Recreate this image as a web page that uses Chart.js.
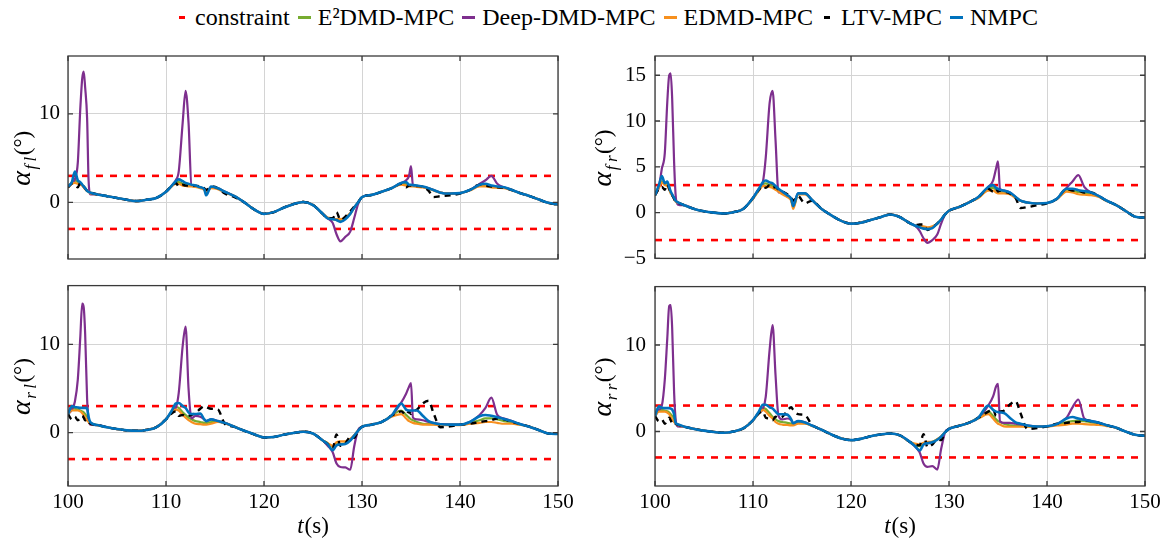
<!doctype html>
<html lang="en">
<head>
  <meta charset="utf-8">
  <title>Slip angles</title>
  <style>
    * { margin: 0; padding: 0; }
    body { width: 1169px; height: 543px; background: #fff; position: relative; overflow: hidden; font-family: "Liberation Serif", "DejaVu Serif", serif; }
    #legend {
      position: absolute; top: 4px; left: 22px; width: 1169px;
      display: flex; justify-content: center; align-items: center;
      font-size: 24px; color: #000; white-space: nowrap;
    }
    .item { display: flex; align-items: center; margin: 0 4px; }
    .slot { width: 13px; height: 3px; display: flex; justify-content: center; margin-right: 7px; }
    .mark { height: 3px; }
    canvas { position: absolute; }
  </style>
</head>
<body>
  <div id="legend"></div>
  <canvas id="cFL" width="590" height="250" style="left:0;top:30px"></canvas>
  <canvas id="cFR" width="589" height="250" style="left:580px;top:30px"></canvas>
  <canvas id="cRL" width="590" height="278" style="left:0;top:265px"></canvas>
  <canvas id="cRR" width="589" height="278" style="left:580px;top:265px"></canvas>

  <script src="https://cdn.jsdelivr.net/npm/chart.js/dist/chart.umd.min.js"></script>
  <script>
    // shared time grid (s)
    const tGrid = [
      100, 100.4, 100.7, 101.0, 101.25, 101.45, 101.6, 101.75, 101.95, 102.1,
      102.3, 103, 104, 105, 106, 107, 108, 109, 110, 110.6,
      111.0, 111.3, 111.7, 112.0, 112.3, 112.6, 113, 113.5, 113.9, 114.1,
      114.6, 115.3, 116, 117, 118, 119, 120, 121, 122, 123,
      124, 125, 126, 126.5, 127, 127.4, 127.8, 128.3, 128.8, 129.2,
      129.6, 130, 131, 132, 133, 134, 134.5, 134.8, 135.0, 135.2,
      135.6, 136.2, 136.8, 137.3, 138, 139, 140, 141, 142, 142.6,
      143.2, 143.8, 144.5, 145.3, 146, 147, 148, 149, 150
    ];
    const xTicks = [100, 110, 120, 130, 140, 150];
    const constraintLevels = [3, -3];

    // front left
    const nmpcFL = [
      1.8, 2.3, 3.5, 2.5, 2.3, 2.0, 1.8, 1.6, 1.3, 1.2,
      1.1, 0.9, 0.7, 0.5, 0.3, 0.15, 0.3, 0.5, 1.2, 1.9,
      2.4, 2.6, 2.4, 2.2, 2.1, 2.0, 1.9, 1.7, 1.5, 0.8,
      1.8, 1.6, 1.2, 0.7, 0.0, -0.8, -1.3, -1.1, -0.6, -0.2,
      0.05, -0.3, -1.3, -1.8, -1.9, -2.0, -2.2, -1.9, -1.3, -0.6,
      0.0, 0.6, 0.85, 1.2, 1.6, 2.2, 2.3, 2.0, 2.0, 1.95,
      1.9, 1.8, 1.6, 1.4, 1.1, 1.0, 1.05, 1.4, 2.0, 2.1,
      1.9, 1.8, 1.7, 1.4, 1.1, 0.75, 0.35, -0.05, -0.25
    ];
    const e2dmdFL = [
      1.8, 2.2, 2.5, 2.3, 2.2, 2.0, 1.8, 1.6, 1.3, 1.2,
      1.1, 0.9, 0.7, 0.5, 0.3, 0.15, 0.3, 0.5, 1.2, 1.9,
      2.3, 2.3, 2.1, 2.0, 1.9, 1.9, 1.8, 1.7, 1.5, 1.2,
      1.7, 1.6, 1.2, 0.7, 0.0, -0.8, -1.3, -1.1, -0.6, -0.2,
      0.05, -0.3, -1.3, -1.8, -1.9, -2.0, -2.1, -1.8, -1.3, -0.6,
      0.0, 0.6, 0.85, 1.2, 1.6, 2.1, 2.1, 1.9, 1.9, 1.9,
      1.85, 1.75, 1.6, 1.4, 1.1, 1.0, 1.05, 1.4, 1.9, 1.9,
      1.8, 1.75, 1.65, 1.4, 1.1, 0.75, 0.35, -0.05, -0.25
    ];
    const deepFL = [
      1.8, 2.2, 2.6, 4.5, 10.5, 14.0, 14.8, 13.0, 9.5, 2.5,
      0.9, 0.9, 0.7, 0.5, 0.3, 0.15, 0.3, 0.5, 1.2, 1.9,
      2.5, 3.5, 9.0, 12.6, 9.0, 1.9, 1.8, 1.7, 1.5, 1.2,
      1.7, 1.6, 1.2, 0.7, 0.0, -0.8, -1.3, -1.1, -0.6, -0.2,
      0.05, -0.3, -1.3, -1.8, -2.3, -3.6, -4.4, -3.9, -3.3, -1.8,
      -0.2, 0.6, 0.85, 1.2, 1.6, 2.2, 2.5, 3.0, 4.1, 1.9,
      1.85, 1.75, 1.6, 1.4, 1.1, 1.0, 1.05, 1.4, 2.1, 2.5,
      3.0, 2.1, 1.7, 1.4, 1.1, 0.75, 0.35, -0.05, -0.25
    ];
    const edmdFL = [
      1.7, 2.1, 2.2, 2.1, 2.0, 1.9, 1.7, 1.5, 1.3, 1.2,
      1.0, 0.9, 0.7, 0.5, 0.3, 0.15, 0.3, 0.5, 1.2, 1.8,
      2.1, 2.1, 1.9, 1.85, 1.8, 1.8, 1.75, 1.6, 1.4, 1.1,
      1.6, 1.5, 1.1, 0.7, 0.0, -0.8, -1.3, -1.1, -0.6, -0.2,
      0.05, -0.3, -1.3, -1.7, -1.8, -1.9, -1.9, -1.7, -1.2, -0.6,
      0.0, 0.6, 0.85, 1.2, 1.6, 2.0, 1.9, 1.8, 1.8, 1.8,
      1.75, 1.7, 1.55, 1.35, 1.1, 1.0, 1.05, 1.35, 1.8, 1.8,
      1.7, 1.65, 1.6, 1.35, 1.1, 0.75, 0.35, -0.05, -0.25
    ];
    const ltvFL = [
      1.7, 2.1, 2.0, 1.7, 2.2, 2.0, 1.8, 1.6, 1.3, 1.2,
      1.1, 0.9, 0.7, 0.5, 0.3, 0.15, 0.3, 0.5, 1.2, 1.9,
      2.2, 1.8, 2.0, 1.9, 1.9, 1.9, 1.9, 1.8, 1.6, 1.4,
      1.8, 1.6, 1.0, 0.6, 0.0, -0.8, -1.3, -1.1, -0.6, -0.2,
      0.05, -0.3, -1.3, -1.8, -1.8, -1.1, -2.0, -1.6, -1.0, -0.5,
      0.0, 0.6, 0.85, 1.2, 1.6, 2.1, 1.7, 1.9, 1.9, 1.9,
      1.85, 1.8, 1.3, 0.6, 0.7, 0.8, 1.0, 1.4, 2.0, 1.9,
      1.8, 1.7, 1.65, 1.4, 1.1, 0.75, 0.35, -0.05, -0.25
    ];

    // front right
    const nmpcFR = [
      1.9, 3.0, 4.0, 3.2, 3.4, 2.8, 2.3, 2.0, 1.6, 1.3,
      1.15, 0.8, 0.4, 0.15, 0.0, -0.1, 0.05, 0.4, 1.6, 2.6,
      3.3, 3.5, 3.3, 3.2, 2.9, 2.6, 2.3, 1.9, 1.5, 0.7,
      2.1, 2.1, 1.4, 0.4, -0.3, -0.9, -1.2, -1.1, -0.8, -0.5,
      -0.2, -0.5, -1.15, -1.4, -1.6, -1.75, -1.8, -1.7, -1.2, -0.75,
      -0.2, 0.2, 0.6, 1.1, 1.7, 2.8, 3.0, 2.7, 2.6, 2.5,
      2.4, 2.2, 1.7, 1.3, 1.1, 1.0, 1.05, 1.5, 2.6, 2.6,
      2.45, 2.35, 2.2, 1.8, 1.35, 0.85, 0.2, -0.45, -0.55
    ];
    const e2dmdFR = [
      1.9, 2.9, 3.4, 3.1, 3.2, 2.7, 2.2, 1.9, 1.6, 1.3,
      1.15, 0.8, 0.4, 0.15, 0.0, -0.1, 0.05, 0.4, 1.6, 2.5,
      3.1, 3.2, 3.0, 2.9, 2.7, 2.5, 2.2, 1.8, 1.4, 0.6,
      2.0, 2.1, 1.4, 0.4, -0.3, -0.9, -1.2, -1.1, -0.8, -0.5,
      -0.2, -0.5, -1.15, -1.4, -1.55, -1.6, -1.7, -1.6, -1.2, -0.75,
      -0.2, 0.2, 0.6, 1.1, 1.7, 2.6, 2.7, 2.5, 2.4, 2.3,
      2.3, 2.1, 1.7, 1.3, 1.1, 1.0, 1.05, 1.5, 2.5, 2.4,
      2.25, 2.15, 2.05, 1.75, 1.35, 0.85, 0.2, -0.45, -0.55
    ];
    const deepFR = [
      1.9, 2.8, 4.8, 6.5, 12.0, 15.0, 15.2, 12.5, 5.5, 2.0,
      0.9, 0.8, 0.4, 0.15, 0.0, -0.1, 0.05, 0.4, 1.6, 2.6,
      3.3, 6.0, 12.0, 13.3, 7.9, 2.2, 2.3, 1.9, 1.5, 0.7,
      2.1, 2.1, 1.4, 0.4, -0.3, -0.9, -1.2, -1.1, -0.8, -0.5,
      -0.2, -0.5, -1.15, -1.4, -2.0, -2.8, -3.3, -3.0, -2.4, -1.2,
      -0.2, 0.2, 0.6, 1.1, 1.7, 2.8, 3.5, 4.8, 5.6, 2.6,
      2.4, 2.2, 1.7, 1.3, 1.1, 1.0, 1.05, 1.5, 2.7, 3.4,
      4.1, 2.8, 2.2, 1.8, 1.35, 0.85, 0.2, -0.45, -0.55
    ];
    const edmdFR = [
      1.9, 2.7, 3.3, 3.0, 2.9, 2.5, 2.1, 1.9, 1.5, 1.2,
      1.1, 0.8, 0.4, 0.15, 0.0, -0.1, 0.05, 0.4, 1.5, 2.4,
      2.9, 2.9, 2.8, 2.7, 2.5, 2.3, 2.0, 1.7, 1.3, 0.4,
      2.0, 2.0, 1.4, 0.4, -0.3, -0.9, -1.2, -1.1, -0.8, -0.5,
      -0.2, -0.5, -1.15, -1.4, -1.5, -1.5, -1.6, -1.5, -1.2, -0.75,
      -0.2, 0.2, 0.6, 1.1, 1.6, 2.4, 2.4, 2.2, 2.1, 2.1,
      2.1, 2.0, 1.6, 1.3, 1.1, 1.0, 1.05, 1.45, 2.3, 2.2,
      2.0, 1.95, 1.9, 1.7, 1.3, 0.85, 0.2, -0.45, -0.55
    ];
    const ltvFR = [
      1.9, 2.6, 2.8, 2.5, 3.1, 2.6, 2.2, 1.9, 1.5, 1.2,
      1.1, 0.8, 0.4, 0.15, 0.0, -0.1, 0.05, 0.4, 1.6, 2.5,
      2.9, 2.7, 3.0, 2.7, 2.8, 2.5, 2.3, 2.0, 1.6, 1.3,
      1.8, 1.0, 1.3, 0.4, -0.3, -0.9, -1.2, -1.1, -0.8, -0.5,
      -0.2, -0.5, -1.15, -1.4, -1.3, -1.3, -1.9, -1.6, -1.2, -0.75,
      -0.2, 0.2, 0.6, 1.1, 1.7, 2.6, 2.3, 2.6, 2.3, 2.4,
      2.3, 2.1, 1.6, 0.5, 0.6, 0.8, 1.0, 1.5, 2.6, 2.4,
      2.4, 2.2, 2.2, 1.8, 1.35, 0.85, 0.2, -0.45, -0.55
    ];

    // rear left
    const nmpcRL = [
      2.1, 3.0, 2.9, 2.85, 2.8, 2.8, 2.8, 2.8, 2.7, 1.8,
      1.15, 0.85, 0.6, 0.4, 0.25, 0.2, 0.3, 0.6, 1.5, 2.5,
      3.3, 3.35, 3.0, 2.8, 2.3, 2.1, 2.1, 2.15, 1.5, 1.3,
      1.5, 1.3, 1.1, 0.65, 0.2, -0.2, -0.55, -0.5, -0.25, -0.05,
      0.1, -0.1, -0.9, -1.3, -2.0, -1.45, -1.35, -1.3, -0.9, -0.35,
      0.2, 0.65, 0.9, 1.2, 1.9, 3.3, 2.6, 2.5, 2.5, 2.5,
      2.5, 1.9, 1.3, 1.1, 0.95, 0.9, 0.9, 1.2, 1.85, 2.0,
      1.9, 1.75, 1.55, 1.3, 1.0, 0.7, 0.3, -0.1, -0.15
    ];
    const e2dmdRL = [
      2.1, 2.7, 2.7, 2.6, 2.5, 2.4, 2.3, 2.1, 1.8, 1.4,
      1.1, 0.85, 0.6, 0.4, 0.25, 0.2, 0.3, 0.6, 1.5, 2.4,
      2.9, 2.8, 2.3, 2.0, 1.7, 1.5, 1.3, 1.2, 1.1, 1.1,
      1.2, 1.25, 1.1, 0.65, 0.2, -0.2, -0.55, -0.5, -0.25, -0.05,
      0.1, -0.1, -0.9, -1.2, -1.6, -1.3, -1.3, -1.2, -0.8, -0.35,
      0.2, 0.65, 0.9, 1.2, 1.9, 2.5, 2.0, 1.7, 1.5, 1.4,
      1.2, 1.0, 0.95, 0.95, 0.9, 0.9, 0.9, 1.1, 1.4, 1.6,
      1.6, 1.5, 1.3, 1.15, 0.95, 0.7, 0.3, -0.1, -0.15
    ];
    const deepRL = [
      2.1, 2.6, 3.5, 6.0, 10.7, 14.6, 14.2, 11.2, 3.8, 1.5,
      0.9, 0.85, 0.6, 0.4, 0.25, 0.2, 0.3, 0.6, 1.5, 2.4,
      2.8, 4.5, 9.8, 12.0, 5.0, 1.6, 1.9, 1.8, 1.5, 1.3,
      1.5, 1.3, 1.1, 0.65, 0.2, -0.2, -0.55, -0.5, -0.25, -0.05,
      0.1, -0.1, -0.9, -1.5, -2.2, -3.5, -3.9, -3.95, -4.2, -1.6,
      0.3, 0.65, 0.9, 1.2, 1.9, 3.4, 4.4, 5.2, 5.6, 1.7,
      1.5, 1.4, 1.2, 1.1, 0.95, 0.9, 0.9, 1.2, 2.0, 2.8,
      3.95, 2.0, 1.6, 1.3, 1.0, 0.7, 0.3, -0.1, -0.15
    ];
    const edmdRL = [
      2.1, 2.5, 2.5, 2.5, 2.4, 2.2, 2.0, 1.7, 1.4, 1.2,
      1.0, 0.85, 0.6, 0.4, 0.25, 0.2, 0.3, 0.6, 1.5, 2.3,
      2.6, 2.5, 2.0, 1.7, 1.4, 1.2, 1.0, 0.95, 0.9, 0.9,
      1.0, 1.2, 1.05, 0.65, 0.2, -0.2, -0.55, -0.5, -0.25, -0.05,
      0.1, -0.1, -0.9, -1.2, -1.5, -1.1, -1.0, -1.0, -0.7, -0.3,
      0.2, 0.65, 0.9, 1.2, 1.8, 2.1, 1.6, 1.3, 1.2, 1.1,
      1.0, 0.9, 0.9, 0.9, 0.85, 0.85, 0.85, 1.0, 1.1, 1.2,
      1.2, 1.1, 1.0, 1.0, 0.9, 0.7, 0.3, -0.1, -0.15
    ];
    const ltvRL = [
      2.1, 1.5, 1.8, 1.4, 1.6, 1.9, 1.7, 1.4, 1.5, 1.2,
      1.0, 0.85, 0.6, 0.4, 0.25, 0.2, 0.3, 0.6, 1.5, 2.2,
      2.4, 1.9, 2.0, 1.8, 1.9, 2.0, 2.2, 2.7, 3.0, 2.9,
      2.7, 2.6, 1.0, 0.65, 0.2, -0.2, -0.55, -0.5, -0.25, -0.05,
      0.1, -0.1, -0.9, -1.3, -1.8, -0.2, -1.5, -1.2, -0.5, -0.6,
      0.2, 0.65, 0.9, 1.2, 1.9, 2.4, 2.0, 2.4, 2.1, 2.4,
      2.6, 3.3, 3.6, 2.2, 0.6, 0.7, 0.9, 1.0, 1.2, 1.3,
      1.4, 1.6, 1.5, 1.2, 1.0, 0.7, 0.3, -0.1, -0.15
    ];

    // rear right
    const nmpcRR = [
      1.8, 2.9, 2.75, 2.7, 2.7, 2.7, 2.65, 2.55, 2.0, 1.0,
      0.85, 0.55, 0.3, 0.1, -0.05, -0.15, 0.0, 0.35, 1.3, 2.3,
      3.1, 3.1, 2.8, 2.65, 2.3, 2.0, 2.0, 1.95, 1.4, 0.95,
      1.2, 1.05, 0.7, 0.2, -0.35, -0.8, -1.0, -0.85, -0.55, -0.35,
      -0.23, -0.45, -1.2, -1.65, -2.2, -1.5, -1.35, -1.25, -0.95, -0.6,
      -0.1, 0.3, 0.65, 1.0, 1.6, 3.0, 2.5, 2.3, 2.25, 2.2,
      2.15, 1.6, 1.05, 0.9, 0.7, 0.57, 0.6, 0.85, 1.5, 1.67,
      1.5, 1.35, 1.2, 1.0, 0.75, 0.45, 0.0, -0.38, -0.5
    ];
    const e2dmdRR = [
      1.8, 2.5, 2.5, 2.4, 2.35, 2.2, 2.0, 1.8, 1.5, 1.0,
      0.8, 0.55, 0.3, 0.1, -0.05, -0.15, 0.0, 0.35, 1.3, 2.2,
      2.7, 2.6, 2.1, 1.7, 1.4, 1.2, 1.1, 1.0, 0.9, 0.85,
      1.0, 0.95, 0.7, 0.2, -0.35, -0.8, -1.0, -0.85, -0.55, -0.35,
      -0.23, -0.45, -1.2, -1.5, -1.7, -1.4, -1.3, -1.2, -0.9, -0.6,
      -0.1, 0.3, 0.65, 1.0, 1.6, 2.3, 1.8, 1.4, 1.2, 1.1,
      0.9, 0.7, 0.65, 0.65, 0.6, 0.57, 0.6, 0.8, 1.1, 1.2,
      1.25, 1.2, 1.05, 0.95, 0.75, 0.45, 0.0, -0.38, -0.5
    ];
    const deepRR = [
      1.8, 2.5, 3.0, 6.0, 10.7, 14.5, 14.6, 12.0, 4.5, 1.5,
      0.6, 0.55, 0.3, 0.1, -0.05, -0.15, 0.0, 0.35, 1.3, 2.2,
      2.6, 4.0, 9.5, 12.3, 6.5, 1.8, 1.4, 1.5, 1.3, 0.95,
      1.2, 1.05, 0.7, 0.2, -0.35, -0.8, -1.0, -0.85, -0.55, -0.35,
      -0.23, -0.45, -1.2, -1.7, -2.4, -3.7, -4.1, -4.0, -4.4, -2.0,
      -0.1, 0.3, 0.65, 1.0, 1.6, 3.0, 4.05, 5.2, 5.5, 1.2,
      1.0, 1.0, 0.9, 0.8, 0.7, 0.57, 0.6, 0.85, 1.6, 2.8,
      3.7, 1.5, 1.2, 1.0, 0.75, 0.45, 0.0, -0.38, -0.5
    ];
    const edmdRR = [
      1.8, 2.3, 2.3, 2.3, 2.2, 2.0, 1.7, 1.4, 1.1, 0.9,
      0.75, 0.55, 0.3, 0.1, -0.05, -0.15, 0.0, 0.35, 1.3, 2.1,
      2.5, 2.3, 1.8, 1.5, 1.1, 0.9, 0.8, 0.75, 0.7, 0.7,
      0.9, 0.9, 0.65, 0.2, -0.35, -0.8, -1.0, -0.85, -0.55, -0.35,
      -0.23, -0.45, -1.2, -1.4, -1.5, -1.3, -1.2, -1.2, -0.9, -0.55,
      -0.1, 0.3, 0.65, 1.0, 1.5, 2.0, 1.5, 1.1, 0.9, 0.8,
      0.6, 0.55, 0.55, 0.55, 0.55, 0.55, 0.55, 0.7, 0.8, 0.9,
      0.9, 0.85, 0.8, 0.75, 0.65, 0.45, 0.0, -0.38, -0.5
    ];
    const ltvRR = [
      1.8, 1.2, 1.4, 0.9, 1.3, 1.6, 1.3, 1.0, 1.1, 0.9,
      0.8, 0.55, 0.3, 0.1, -0.05, -0.15, 0.0, 0.35, 1.3, 2.1,
      2.3, 1.6, 1.5, 1.3, 1.7, 1.6, 1.7, 2.4, 2.8, 2.5,
      2.0, 1.9, 0.8, 0.2, -0.35, -0.8, -1.0, -0.85, -0.55, -0.35,
      -0.23, -0.45, -1.2, -1.5, -1.6, -0.3, -1.8, -1.5, -0.9, -1.0,
      -0.1, 0.3, 0.65, 1.0, 1.6, 2.3, 2.6, 1.8, 2.1, 2.3,
      2.4, 3.1, 3.5, 2.1, 0.3, 0.4, 0.6, 0.9, 1.0, 1.1,
      1.1, 1.3, 1.2, 1.0, 0.75, 0.45, 0.0, -0.38, -0.5
    ];

    const yTicksFL = [0, 10];
    const yTicksFR = [-5, 0, 5, 10, 15];
    const yTicksRL = [0, 10];
    const yTicksRR = [0, 10];

    const seriesInfo = [
      { name: 'constraint', color: '#ff0000', dashed: true },
      { name: 'E²DMD-MPC', color: '#77ac30' },
      { name: 'Deep-DMD-MPC', color: '#7e2f8e' },
      { name: 'EDMD-MPC', color: '#f7901e' },
      { name: 'LTV-MPC', color: '#000000', dashed: true },
      { name: 'NMPC', color: '#0072bd' }
    ];

    // pick the first serif family that is really installed
    function pickSerif(list) {
      const c = document.createElement('canvas').getContext('2d');
      const probe = 'mmmmmwwwllli 0123456789 QRag';
      for (const f of list) {
        for (const base of ['monospace', 'sans-serif']) {
          c.font = '40px ' + base;
          const w0 = c.measureText(probe).width;
          c.font = '40px "' + f + '", ' + base;
          if (Math.abs(c.measureText(probe).width - w0) > 0.5) return f;
        }
      }
      return null;
    }
    const found = pickSerif(['Liberation Serif', 'Tinos', 'Times New Roman', 'Times', 'Nimbus Roman', 'Nimbus Roman No9 L', 'FreeSerif', 'Noto Serif', 'DejaVu Serif', 'Georgia']);
    const serif = found ? '"' + found + '", serif' : 'serif';
    document.body.style.fontFamily = serif;

    // legend
    const legend = document.getElementById('legend');
    seriesInfo.forEach(s => {
      const item = document.createElement('div');
      item.className = 'item';
      const slot = document.createElement('span');
      slot.className = 'slot';
      const mark = document.createElement('span');
      mark.className = 'mark';
      mark.style.background = s.color;
      mark.style.width = s.dashed ? '6px' : '13px';
      slot.appendChild(mark);
      const label = document.createElement('span');
      label.textContent = s.name;
      item.appendChild(slot);
      item.appendChild(label);
      legend.appendChild(item);
    });

    Chart.defaults.font.family = serif;
    Chart.defaults.font.size = 21;
    Chart.defaults.color = '#000';

    // frame + inward tick marks, axis titles
    const framePlugin = {
      id: 'frame',
      afterDraw(chart, args, opts) {
        const { ctx, chartArea: a, scales: { x, y } } = chart;
        ctx.save();
        ctx.strokeStyle = '#3a3a3a';
        ctx.lineWidth = 1.3;
        ctx.beginPath();
        xTicks.forEach(v => {
          const px = x.getPixelForValue(v);
          ctx.moveTo(px, a.bottom); ctx.lineTo(px, a.bottom - 5);
          ctx.moveTo(px, a.top); ctx.lineTo(px, a.top + 5);
        });
        opts.yTicks.forEach(v => {
          const py = y.getPixelForValue(v);
          ctx.moveTo(a.left, py); ctx.lineTo(a.left + 5, py);
          ctx.moveTo(a.right, py); ctx.lineTo(a.right - 5, py);
        });
        ctx.stroke();
        ctx.strokeRect(a.left, a.top, a.right - a.left, a.bottom - a.top);

        // y title
        ctx.fillStyle = '#000';
        ctx.textBaseline = 'alphabetic';
        const parts = [
          { s: 'α', font: 'italic 28px ' + serif, dy: 0 },
          { s: opts.sub, font: 'italic 17px ' + serif, dy: 6 },
          { s: '(°)', font: '23px ' + serif, dy: 0 }
        ];
        let total = 0;
        parts.forEach(p => { ctx.font = p.font; p.w = ctx.measureText(p.s).width + 1.5; total += p.w; });
        ctx.translate(opts.titleX, (a.top + a.bottom) / 2);
        ctx.rotate(-Math.PI / 2);
        let px = -total / 2;
        parts.forEach(p => { ctx.font = p.font; ctx.fillText(p.s, px, p.dy); px += p.w; });
        ctx.setTransform(1, 0, 0, 1, 0, 0);

        // x title
        if (opts.showX) {
          const t1 = 't', t2 = '(s)';
          ctx.font = 'italic 23px ' + serif;
          const w1 = ctx.measureText(t1).width + 1;
          ctx.font = '23px ' + serif;
          const w2 = ctx.measureText(t2).width;
          const cx = (a.left + a.right) / 2 - (w1 + w2) / 2;
          ctx.font = 'italic 23px ' + serif;
          ctx.fillText(t1, cx, opts.xTitleY);
          ctx.font = '23px ' + serif;
          ctx.fillText(t2, cx + w1, opts.xTitleY);
        }
        ctx.restore();
      }
    };

    function pts(vals) {
      return tGrid.map((t, i) => ({ x: t, y: vals[i] }));
    }

    function makePanel(id, p) {
      const lines = [p.e2dmd, p.deep, p.edmd, p.ltv, p.nmpc];
      const datasets = [];
      constraintLevels.forEach(lv => {
        datasets.push({
          data: [{ x: xTicks[0], y: lv }, { x: xTicks[xTicks.length - 1], y: lv }],
          borderColor: seriesInfo[0].color, borderWidth: 2.6, borderDash: [7, 7],
          pointRadius: 0, order: 10
        });
      });
      lines.forEach((vals, i) => {
        const info = seriesInfo[i + 1];
        datasets.push({
          label: info.name,
          data: pts(vals),
          borderColor: info.color,
          borderWidth: info.name === 'NMPC' ? 2.6 : (info.dashed ? 2.4 : 2.2),
          borderDash: info.dashed ? [6, 5] : [],
          pointRadius: 0,
          cubicInterpolationMode: 'monotone',
          order: 5 - i
        });
      });

      return new Chart(document.getElementById(id), {
        type: 'line',
        data: { datasets },
        options: {
          responsive: false,
          animation: false,
          devicePixelRatio: 1,
          layout: { padding: { top: p.padTop, right: p.padRight, left: 0, bottom: 0 } },
          plugins: {
            legend: { display: false },
            tooltip: { enabled: false },
            frame: { yTicks: p.yTicks, sub: p.sub, titleX: p.titleX, showX: p.showX, xTitleY: p.xTitleY }
          },
          scales: {
            x: {
              type: 'linear', min: 100, max: 150,
              afterBuildTicks: s => { s.ticks = xTicks.map(v => ({ value: v })); },
              afterFit: s => { s.height = p.xHeight; },
              ticks: { display: p.showX, padding: 4, maxRotation: 0, autoSkip: false },
              grid: { color: '#d4d4d4', lineWidth: 1, drawTicks: false },
              border: { display: false }
            },
            y: {
              min: p.yMin, max: p.yMax,
              afterBuildTicks: s => { s.ticks = p.yTicks.map(v => ({ value: v })); },
              afterFit: s => { s.width = p.yWidth; },
              ticks: {
                padding: p.tickPad,
                callback: v => (v < 0 ? '−' + Math.abs(v) : String(v))
              },
              grid: { color: '#d4d4d4', lineWidth: 1, drawTicks: false },
              border: { display: false }
            }
          }
        },
        plugins: [framePlugin]
      });
    }

    makePanel('cFL', {
      nmpc: nmpcFL, e2dmd: e2dmdFL, deep: deepFL, edmd: edmdFL, ltv: ltvFL,
      yMin: -6.4, yMax: 16.55, yTicks: yTicksFL, sub: 'f\u2009l',
      padTop: 26, padRight: 32, yWidth: 68, xHeight: 21, showX: false,
      titleX: 30, tickPad: 8
    });
    makePanel('cFR', {
      nmpc: nmpcFR, e2dmd: e2dmdFR, deep: deepFR, edmd: edmdFR, ltv: ltvFR,
      yMin: -5, yMax: 17.1, yTicks: yTicksFR, sub: 'f\u2009r',
      padTop: 26, padRight: 24, yWidth: 75, xHeight: 21, showX: false,
      titleX: 31, tickPad: 9
    });
    makePanel('cRL', {
      nmpc: nmpcRL, e2dmd: e2dmdRL, deep: deepRL, edmd: edmdRL, ltv: ltvRL,
      yMin: -6.05, yMax: 16.65, yTicks: yTicksRL, sub: 'r\u2009l',
      padTop: 18, padRight: 32, yWidth: 68, xHeight: 57, showX: true, xTitleY: 268,
      titleX: 30, tickPad: 8
    });
    makePanel('cRR', {
      nmpc: nmpcRR, e2dmd: e2dmdRR, deep: deepRR, edmd: edmdRR, ltv: ltvRR,
      yMin: -6.3, yMax: 16.75, yTicks: yTicksRR, sub: 'r\u2009r',
      padTop: 18, padRight: 24, yWidth: 75, xHeight: 57, showX: true, xTitleY: 268,
      titleX: 31, tickPad: 9
    });
  </script>
</body>
</html>
